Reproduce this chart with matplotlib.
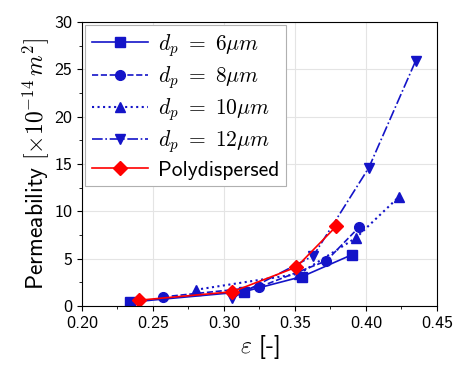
import matplotlib
matplotlib.use("Agg")
import matplotlib.pyplot as plt
from matplotlib.ticker import MultipleLocator

plt.rcParams['font.family'] = ['cmss10', 'DejaVu Sans']
plt.rcParams['mathtext.fontset'] = 'cm'
plt.rcParams['axes.unicode_minus'] = False

# porosity vs permeability for each particle diameter
eps_6 = [0.234, 0.314, 0.355, 0.390]
k_6 = [0.4, 1.5, 3.1, 5.4]
eps_8 = [0.257, 0.325, 0.372, 0.395]
k_8 = [0.95, 2.0, 4.75, 8.3]
eps_10 = [0.280, 0.353, 0.393, 0.423]
k_10 = [1.7, 3.4, 7.2, 11.5]
eps_12 = [0.306, 0.363, 0.402, 0.435]
k_12 = [0.85, 5.3, 14.6, 25.9]
eps_poly = [0.240, 0.306, 0.351, 0.379]
k_poly = [0.6, 1.5, 4.1, 8.4]

blue = '#1414c8'
fig = plt.figure(figsize=(4.58, 3.69), dpi=100)
ax = fig.add_axes([0.179, 0.171, 0.775, 0.769])

ax.plot(eps_6, k_6, '-', marker='s', color=blue, ms=7, lw=1.2, label=r'$d_p\ =\ 6\mu m$')
ax.plot(eps_8, k_8, '--', marker='o', color=blue, ms=7, lw=1.2, label=r'$d_p\ =\ 8\mu m$')
ax.plot(eps_10, k_10, ':', marker='^', color=blue, ms=7, lw=1.5, label=r'$d_p\ =\ 10\mu m$')
ax.plot(eps_12, k_12, '-.', marker='v', color=blue, ms=7, lw=1.2, label=r'$d_p\ =\ 12\mu m$')
ax.plot(eps_poly, k_poly, '-', marker='D', color='red', ms=7, lw=1.2, label='Polydispersed')

ax.set_xlim(0.20, 0.45)
ax.set_ylim(0, 30)
ax.xaxis.set_major_locator(MultipleLocator(0.05))
ax.xaxis.set_minor_locator(MultipleLocator(0.025))
ax.yaxis.set_major_locator(MultipleLocator(5))
ax.yaxis.set_minor_locator(MultipleLocator(2.5))
ax.xaxis.set_major_formatter(plt.FormatStrFormatter('%.2f'))
ax.tick_params(labelsize=13)
ax.tick_params(which='both', direction='out', top=False, right=False)
ax.grid(True, color='#e4e4e4', lw=0.8)
ax.set_axisbelow(True)

ax.set_xlabel(r'$\varepsilon$ [-]', fontsize=17, labelpad=2)
ax.set_ylabel(r'Permeability $[\times 10^{-14}\,m^2]$', fontsize=17, labelpad=2)

leg = ax.legend(loc='upper left', fontsize=15.5, fancybox=False, framealpha=1,
                edgecolor='#b0b0b0', borderaxespad=0.15, handlelength=2.6,
                labelspacing=0.25, borderpad=0.3, handletextpad=0.5)
leg.get_frame().set_linewidth(0.8)

fig.savefig('out.png', dpi=100)
